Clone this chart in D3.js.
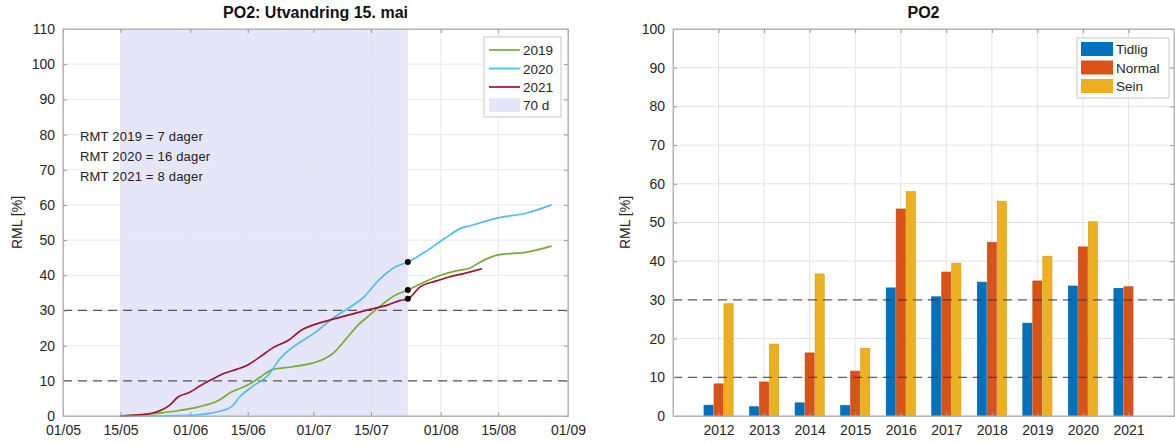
<!DOCTYPE html>
<html><head><meta charset="utf-8">
<script src="https://cdn.jsdelivr.net/npm/d3@7"></script>
<style>
body{margin:0;background:#fff;}
svg{display:block;font-family:"Liberation Sans",Arial,Helvetica,sans-serif;}
</style></head>
<body><svg id="c" width="1175" height="444"></svg>
<script>
// ---------- data: left chart (cumulative RML %, by date) ----------
const leftTitle = "PO2: Utvandring 15. mai";
const xTickLabels = ["01/05","15/05","01/06","15/06","01/07","15/07","01/08","15/08","01/09"];
const xTickDates = ["2021-05-01","2021-05-15","2021-06-01","2021-06-15","2021-07-01","2021-07-15","2021-08-01","2021-08-15","2021-09-01"];
const leftYTicks = [0,10,20,30,40,50,60,70,80,90,100,110];
const shadeStart = "2021-05-15";
const shadeEnd = "2021-07-24";   // 70 d
const markerDate = "2021-07-24";
const refLines = [10, 30];
const seriesNames = ["2019","2020","2021"];
const seriesColors = ["#77AC30","#4DBEEE","#A2142F"];
const days2019 = [14,24,28,33,38,41,45,48,51,56,60,63,66,69,72,74,77,81,84,87,92,96,99,102,106,113,119];
const vals2019 = [0,0.9,1.5,2.6,4.5,6.8,8.8,11,13.2,14,14.8,15.9,18,22,26,28,31,34.4,35.8,37.5,40,41.3,42,44,45.8,46.6,48.3];
const days2020 = [14,31,36,41,43,46,50,53,56,61,66,70,73,77,81,84,88,93,97,99,106,113,119];
const vals2020 = [0,0.2,0.8,2.6,5.4,8.3,11.6,16.5,19.6,23.4,28,31,33.5,38.7,42.4,43.8,46.5,50.5,53.4,54,56.3,57.7,60];
const days2021 = [14,19,24,26,28,31,33,36,39,41,45,48,51,55,58,61,67,74,79,82,84,87,91,94,98,102];
const vals2021 = [0,0.3,1.7,3.1,5.4,6.8,8.3,10.2,12,12.8,14.5,16.8,19.3,21.6,24.4,25.9,27.9,30.1,31.5,32.8,33.3,36.7,38.4,39.5,40.6,41.8];
const annotations = ["RMT 2019 = 7 dager","RMT 2020 = 16 dager","RMT 2021 = 8 dager"];
const shadeLabel = "70 d";

// ---------- data: right chart (grouped bars) ----------
const rightTitle = "PO2";
const years = [2012,2013,2014,2015,2016,2017,2018,2019,2020,2021];
const groupNames = ["Tidlig","Normal","Sein"];
const groupColors = ["#0072BD","#D95319","#EDB120"];
const tidlig = [2.8,2.4,3.4,2.7,33.1,30.8,34.6,24.0,33.6,33.0];
const normal = [8.3,8.8,16.3,11.6,53.5,37.2,44.9,34.9,43.7,33.4];
const sein   = [29.0,18.6,36.7,17.5,58.0,39.5,55.5,41.3,50.2,null];
const rightYTicks = [0,10,20,30,40,50,60,70,80,90,100];
const yLabel = "RML [%]";

// ---------- drawing ----------
const svg = d3.select("#c");
const parse = d3.timeParse("%Y-%m-%d");
const base = parse("2021-05-01");
const dayToDate = d => d3.timeDay.offset(base, d);
const TXT = "#262626", FRAME = "#b5b5b5", GRID = "#e3e3e3";
const TICKFS = 14;

// LEFT
const L = {l:63, r:568, t:29, b:416};
const xL = d3.scaleTime().domain([parse("2021-05-01"), parse("2021-09-01")]).range([L.l, L.r]);
const yL = d3.scaleLinear().domain([0,110]).range([L.b, L.t]);
const gL = svg.append("g");

gL.append("rect").attr("x", xL(parse(shadeStart))).attr("y", L.t)
  .attr("width", xL(parse(shadeEnd)) - xL(parse(shadeStart))).attr("height", L.b - L.t)
  .attr("fill", "#e6e6fb");

gL.append("g").selectAll("line").data(leftYTicks).join("line")
  .attr("x1", L.l).attr("x2", L.r).attr("y1", d=>yL(d)).attr("y2", d=>yL(d))
  .attr("stroke", GRID).attr("stroke-opacity",0.8);
gL.append("g").selectAll("line").data(xTickDates).join("line")
  .attr("y1", L.t).attr("y2", L.b).attr("x1", d=>xL(parse(d))).attr("x2", d=>xL(parse(d)))
  .attr("stroke", GRID).attr("stroke-opacity",0.8);

gL.append("g").selectAll("line").data(refLines).join("line")
  .attr("x1", L.l).attr("x2", L.r).attr("y1", d=>yL(d)).attr("y2", d=>yL(d))
  .attr("stroke", "#555").attr("stroke-width",1.3).attr("stroke-dasharray","9,6");

const axLy = d3.axisLeft(yL).tickValues(leftYTicks).tickSize(-4).tickPadding(8);
const axLx = d3.axisBottom(xL).tickValues(xTickDates.map(parse)).tickFormat((d,i)=>xTickLabels[i]).tickSize(-4).tickPadding(9);
gL.append("g").attr("transform",`translate(${L.l},0)`).call(axLy);
gL.append("g").attr("transform",`translate(0,${L.b})`).call(axLx);
gL.append("g").attr("transform",`translate(${L.r},0)`).call(d3.axisRight(yL).tickValues(leftYTicks).tickSize(-4).tickFormat(""));
gL.append("g").attr("transform",`translate(0,${L.t})`).call(d3.axisTop(xL).tickValues(xTickDates.map(parse)).tickSize(-4).tickFormat(""));

const seriesData = [
  days2019.map((d,i)=>({date:dayToDate(d), v:vals2019[i]})),
  days2020.map((d,i)=>({date:dayToDate(d), v:vals2020[i]})),
  days2021.map((d,i)=>({date:dayToDate(d), v:vals2021[i]}))
];
const line = d3.line().x(d=>xL(d.date)).y(d=>yL(d.v)).curve(d3.curveMonotoneX);
seriesData.forEach((s,i)=>{
  gL.append("path").datum(s).attr("d", line).attr("fill","none")
    .attr("stroke", seriesColors[i]).attr("stroke-width",1.7);
});
const md = parse(markerDate);
seriesData.forEach(s=>{
  const p = s.find(d=>+d.date === +md);
  if(p) gL.append("circle").attr("cx", xL(p.date)).attr("cy", yL(p.v)).attr("r",3).attr("fill","#000");
});

gL.append("rect").attr("x",L.l).attr("y",L.t).attr("width",L.r-L.l).attr("height",L.b-L.t)
  .attr("fill","none").attr("stroke",FRAME);

svg.append("text").attr("x",(L.l+L.r)/2).attr("y",18).attr("text-anchor","middle")
  .attr("font-weight","bold").attr("font-size",16).attr("fill","#111").text(leftTitle);
svg.append("text").attr("transform",`translate(22,${(L.t+L.b)/2}) rotate(-90)`).attr("text-anchor","middle")
  .attr("font-size",14).attr("fill",TXT).text(yLabel);

annotations.forEach((t,i)=>{
  svg.append("text").attr("x",80).attr("y",141+i*20).attr("font-size",13).attr("letter-spacing",0.2)
    .attr("fill","#222").text(t);
});

const lg = svg.append("g");
lg.append("rect").attr("x",484).attr("y",37).attr("width",77).attr("height",80)
  .attr("fill","#fff").attr("stroke","#c8c8c8");
seriesNames.forEach((n,i)=>{
  const y = 50 + i*18.5;
  lg.append("line").attr("x1",489).attr("x2",520).attr("y1",y).attr("y2",y).attr("stroke",seriesColors[i]).attr("stroke-width",1.7);
  lg.append("text").attr("x",523).attr("y",y+5).attr("font-size",13.5).attr("fill",TXT).text(n);
});
lg.append("rect").attr("x",489).attr("y",98).attr("width",31).attr("height",14).attr("fill","#e6e6fb");
lg.append("text").attr("x",523).attr("y",110).attr("font-size",13.5).attr("fill",TXT).text(shadeLabel);

// RIGHT
const R = {l:673, r:1174, t:29, b:416};
const xR = d3.scaleLinear().domain([2011,2022]).range([R.l, R.r]);
const yR = d3.scaleLinear().domain([0,100]).range([R.b, R.t]);
const gR = svg.append("g");
gR.append("g").selectAll("line").data(rightYTicks).join("line")
  .attr("x1", R.l).attr("x2", R.r).attr("y1", d=>yR(d)).attr("y2", d=>yR(d)).attr("stroke", GRID);
gR.append("g").selectAll("line").data(years).join("line")
  .attr("y1", R.t).attr("y2", R.b).attr("x1", d=>xR(d)).attr("x2", d=>xR(d)).attr("stroke", GRID);

const step = xR(1) - xR(0);
const bw = step*0.2, off = step*0.22;
const groups = [tidlig, normal, sein];
groups.forEach((vals,gi)=>{
  gR.append("g").selectAll("rect").data(years.map((y,i)=>({y, v:vals[i]})).filter(d=>d.v!=null)).join("rect")
    .attr("x", d=>xR(d.y) + (gi-1)*off - bw/2).attr("width", bw)
    .attr("y", d=>yR(d.v)).attr("height", d=>yR(0)-yR(d.v))
    .attr("fill", groupColors[gi]).attr("stroke", d3.color(groupColors[gi]).darker(0.4)).attr("stroke-width",0.6);
});
gR.append("g").selectAll("line").data(refLines).join("line")
  .attr("x1", R.l).attr("x2", R.r).attr("y1", d=>yR(d)).attr("y2", d=>yR(d))
  .attr("stroke", "#333").attr("stroke-opacity",0.75).attr("stroke-width",1.3).attr("stroke-dasharray","9,6");

gR.append("g").attr("transform",`translate(${R.l},0)`).call(d3.axisLeft(yR).tickValues(rightYTicks).tickSize(-4).tickPadding(8));
gR.append("g").attr("transform",`translate(0,${R.b})`).call(d3.axisBottom(xR).tickValues(years).tickFormat(d3.format("d")).tickSize(-4).tickPadding(9));
gR.append("g").attr("transform",`translate(${R.r},0)`).call(d3.axisRight(yR).tickValues(rightYTicks).tickSize(-4).tickFormat(""));
gR.append("g").attr("transform",`translate(0,${R.t})`).call(d3.axisTop(xR).tickValues(years).tickSize(-4).tickFormat(""));
gR.append("rect").attr("x",R.l).attr("y",R.t).attr("width",R.r-R.l).attr("height",R.b-R.t)
  .attr("fill","none").attr("stroke",FRAME);

svg.append("text").attr("x",(R.l+R.r)/2).attr("y",18).attr("text-anchor","middle")
  .attr("font-weight","bold").attr("font-size",16).attr("fill","#111").text(rightTitle);
svg.append("text").attr("transform",`translate(630,${(R.t+R.b)/2}) rotate(-90)`).attr("text-anchor","middle")
  .attr("font-size",14).attr("fill",TXT).text(yLabel);

const lr = svg.append("g");
lr.append("rect").attr("x",1077).attr("y",38).attr("width",92).attr("height",60).attr("fill","#fff").attr("stroke","#c8c8c8");
groupNames.forEach((n,i)=>{
  const y = 49 + i*18.5;
  lr.append("rect").attr("x",1081).attr("y",y-7).attr("width",32).attr("height",14).attr("fill",groupColors[i]);
  lr.append("text").attr("x",1116).attr("y",y+5).attr("font-size",13.5).attr("fill",TXT).text(n);
});

svg.selectAll(".domain").attr("stroke",FRAME);
svg.selectAll(".tick line").attr("stroke","#999");
svg.selectAll(".tick text").attr("font-size",TICKFS).attr("fill",TXT).attr("font-family",'"Liberation Sans",Arial,sans-serif');
</script></body></html>
